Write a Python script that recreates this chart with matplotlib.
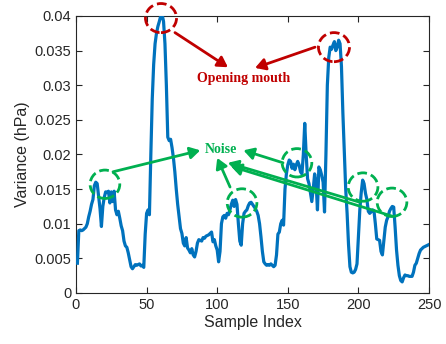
import matplotlib

matplotlib.use("Agg")
import matplotlib.pyplot as plt
import numpy as np
from matplotlib.patches import Ellipse

# ── data ──────────────────────────────────────────────────────────────
variance = [
    0.0043, 0.0090, 0.0091, 0.0090, 0.0091, 0.0093, 0.0095, 0.0100, 0.0110, 0.0118,
    0.0128, 0.0135, 0.0155, 0.0160, 0.0158, 0.0140, 0.0122, 0.0096, 0.0125, 0.0138,
    0.0146, 0.0145, 0.0147, 0.0130, 0.0146, 0.0132, 0.0147, 0.0120, 0.0113, 0.0118,
    0.0108, 0.0097, 0.0090, 0.0075, 0.0068, 0.0066, 0.0058, 0.0048, 0.0038, 0.0035,
    0.0038, 0.0041, 0.0040, 0.0041, 0.0042, 0.0039, 0.0040, 0.0037, 0.0085, 0.0115,
    0.0120, 0.0113, 0.0200, 0.0280, 0.0330, 0.0360, 0.0375, 0.0385, 0.0392, 0.0400,
    0.0402, 0.0392, 0.0360, 0.0300, 0.0225, 0.0220, 0.0222, 0.0210, 0.0195, 0.0175,
    0.0150, 0.0128, 0.0110, 0.0093, 0.0086, 0.0072, 0.0068, 0.0080, 0.0065, 0.0062,
    0.0058, 0.0064, 0.0055, 0.0052, 0.0060, 0.0072, 0.0077, 0.0076, 0.0075, 0.0080,
    0.0079, 0.0082, 0.0083, 0.0084, 0.0086, 0.0088, 0.0074, 0.0077, 0.0068, 0.0062,
    0.0045, 0.0060, 0.0100, 0.0110, 0.0112, 0.0108, 0.0115, 0.0113, 0.0120, 0.0128,
    0.0134, 0.0125, 0.0135, 0.0128, 0.0100, 0.0075, 0.0069, 0.0100, 0.0115, 0.0118,
    0.0120, 0.0126, 0.0130, 0.0131, 0.0128, 0.0125, 0.0122, 0.0118, 0.0112, 0.0100,
    0.0081, 0.0060, 0.0045, 0.0042, 0.0040, 0.0041, 0.0040, 0.0042, 0.0040, 0.0038,
    0.0040, 0.0055, 0.0085, 0.0088, 0.0100, 0.0105, 0.0098, 0.0150, 0.0172, 0.0185,
    0.0192, 0.0190, 0.0180, 0.0186, 0.0178, 0.0185, 0.0190, 0.0185, 0.0175, 0.0172,
    0.0200, 0.0245, 0.0200, 0.0165, 0.0158, 0.0145, 0.0132, 0.0150, 0.0172, 0.0160,
    0.0120, 0.0182, 0.0178, 0.0170, 0.0160, 0.0117, 0.0200, 0.0300, 0.0340, 0.0355,
    0.0352, 0.0358, 0.0363, 0.0350, 0.0355, 0.0365, 0.0360, 0.0327, 0.0260, 0.0205,
    0.0150, 0.0115, 0.0070, 0.0038, 0.0030, 0.0029, 0.0030, 0.0034, 0.0042, 0.0080,
    0.0120, 0.0145, 0.0163, 0.0158, 0.0144, 0.0135, 0.0118, 0.0115, 0.0117, 0.0120,
    0.0119, 0.0100, 0.0078, 0.0077, 0.0076, 0.0060, 0.0055, 0.0075, 0.0095, 0.0105,
    0.0110, 0.0118, 0.0122, 0.0125, 0.0124, 0.0095, 0.0062, 0.0040, 0.0025, 0.0018,
    0.0016, 0.0022, 0.0026, 0.0025, 0.0025, 0.0024, 0.0024, 0.0024, 0.0030, 0.0040,
    0.0043, 0.0050, 0.0057, 0.0062, 0.0064, 0.0066, 0.0067, 0.0068, 0.0069, 0.0070,
]
sample_index = np.arange(1, len(variance) + 1)
x_ticks = [0, 50, 100, 150, 200, 250]
y_ticks = [0, 0.005, 0.01, 0.015, 0.02, 0.025, 0.03, 0.035, 0.04]
y_ticklabels = ["0", "0.005", "0.01", "0.015", "0.02", "0.025", "0.03", "0.035", "0.04"]

# annotation anchors (data coords)
mouth_circles = [(60.2, 0.0397), (182.7, 0.0355)]
noise_circles = [(20.5, 0.0157), (117.6, 0.0130), (156.5, 0.0188), (203.3, 0.0153), (223.8, 0.0131)]

BLUE = "#0072BD"
RED = "#C00000"
GREEN = "#00B050"

plt.rcParams["font.family"] = ["Liberation Sans", "DejaVu Sans"]

fig = plt.figure(figsize=(4.46, 3.44), dpi=100)
ax = fig.add_axes([0.1704, 0.1483, 0.7915, 0.8052])
ax.plot(sample_index, variance, color=BLUE, lw=2.3, zorder=3)

ax.set_xlim(0, 250)
ax.set_ylim(0, 0.04)
ax.set_xticks(x_ticks)
ax.set_yticks(y_ticks)
ax.set_yticklabels(y_ticklabels)
ax.tick_params(direction="in", top=True, right=True, length=4, width=0.8,
               labelsize=10.5, colors="#262626")
for sp in ax.spines.values():
    sp.set_color("#262626")
    sp.set_linewidth(0.8)
ax.set_xlabel("Sample Index", fontsize=11.5, color="#262626", labelpad=2)
ax.set_ylabel("Variance (hPa)", fontsize=11.5, color="#262626", labelpad=3)

# ── annotations ──
for cx, cy in mouth_circles:
    ax.add_patch(Ellipse((cx, cy), 22.0, 0.0042, fill=False, ec=RED, lw=2.0,
                         ls=(0, (3.5, 1.5)), clip_on=False, zorder=5))
for cx, cy in noise_circles:
    ax.add_patch(Ellipse((cx, cy), 21.0, 0.0041, fill=False, ec=GREEN, lw=2.0,
                         ls=(0, (3.5, 1.5)), clip_on=False, zorder=5))

red_arrow = dict(arrowstyle="-|>,head_length=0.6,head_width=0.35", color=RED, lw=2.0,
                 shrinkA=0, shrinkB=0)
ax.annotate("", xy=(107.6, 0.0326), xytext=(70.1, 0.0376), arrowprops=red_arrow, zorder=6)
ax.annotate("", xy=(126.8, 0.0325), xytext=(169.3, 0.0355), arrowprops=red_arrow, zorder=6)
ax.text(119, 0.0310, "Opening mouth", color=RED, fontsize=10, fontweight="bold",
        family="Liberation Serif", ha="center", va="center", zorder=6)

green_arrow = dict(arrowstyle="-|>,head_length=0.6,head_width=0.35", color=GREEN, lw=2.0,
                   shrinkA=0, shrinkB=0)
green_arrows = [
    ((88.0, 0.0206), (26.2, 0.0175)),
    ((100.0, 0.0195), (109.1, 0.0153)),
    ((118.6, 0.0206), (146.6, 0.0188)),
    ((107.6, 0.0188), (201.1, 0.0131)),
    ((109.8, 0.0183), (223.8, 0.0111)),
]
for head, tail in green_arrows:
    ax.annotate("", xy=head, xytext=tail, arrowprops=green_arrow, zorder=6)
ax.text(103.0, 0.0207, "Noise", color=GREEN, fontsize=10, fontweight="bold",
        family="Liberation Serif", ha="center", va="center", zorder=6)

fig.savefig("out.png", dpi=100)
